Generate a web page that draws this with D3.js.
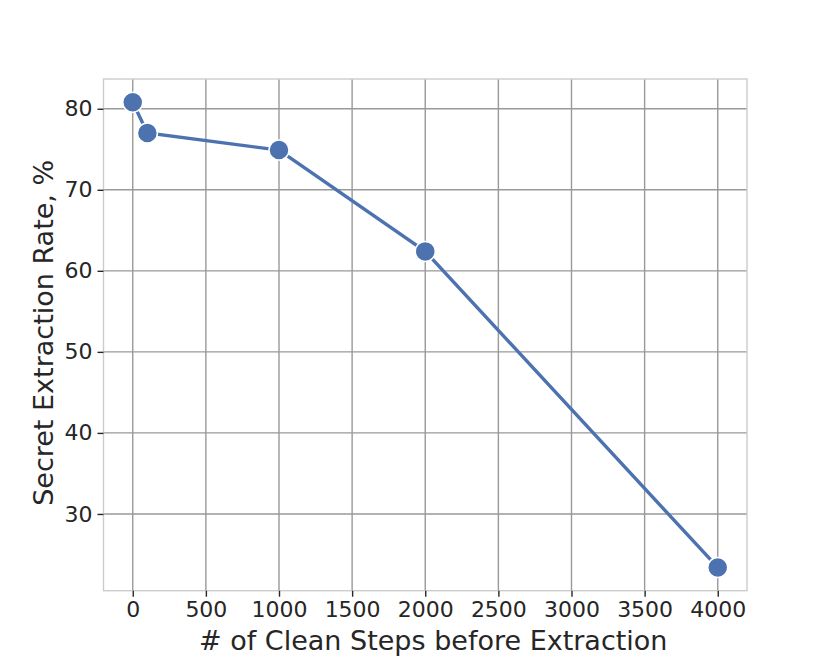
<!DOCTYPE html>
<html><head><meta charset="utf-8">
<script src="https://cdn.jsdelivr.net/npm/d3@7"></script>
<style>body{margin:0;background:#fff}svg{display:block}text{font-family:"DejaVu Sans",sans-serif;fill:#262626}</style>
</head><body><svg id="c" width="830" height="664"></svg>
<script>
const steps = [0, 100, 1000, 2000, 4000];
const rates = [80.8, 77.0, 74.9, 62.4, 23.4];
const xTicks = [0, 500, 1000, 1500, 2000, 2500, 3000, 3500, 4000];
const yTicks = [30, 40, 50, 60, 70, 80];
const xLabel = "# of Clean Steps before Extraction";
const yLabel = "Secret Extraction Rate, %";

const L = 103.5, R = 747, T = 79, B = 590.7;
const svg = d3.select("#c");
const x = d3.scaleLinear().domain([-200, 4200]).range([L, R]);
const ymin = d3.min(rates), ymax = d3.max(rates), pad = (ymax - ymin) * 0.05;
const y = d3.scaleLinear().domain([ymin - pad, ymax + pad]).range([B, T]);

// grid
svg.append("g").selectAll("line").data(xTicks).join("line")
  .attr("x1", d => x(d)).attr("x2", d => x(d)).attr("y1", T).attr("y2", B)
  .attr("stroke", "#999").attr("stroke-width", 1.4);
svg.append("g").selectAll("line").data(yTicks).join("line")
  .attr("y1", d => y(d)).attr("y2", d => y(d)).attr("x1", L).attr("x2", R)
  .attr("stroke", "#999").attr("stroke-width", 1.4);
// frame
svg.append("rect").attr("x", L).attr("y", T).attr("width", R - L).attr("height", B - T)
  .attr("fill", "none").attr("stroke", "#cccccc").attr("stroke-width", 1.4);

// axes
const xa = svg.append("g").attr("transform", `translate(0,${B})`)
  .call(d3.axisBottom(x).tickValues(xTicks).tickSize(6).tickPadding(5).tickFormat(d3.format("d")));
const ya = svg.append("g").attr("transform", `translate(${L},0)`)
  .call(d3.axisLeft(y).tickValues(yTicks).tickSize(6).tickPadding(5));
[xa, ya].forEach(a => {
  a.select(".domain").remove();
  a.selectAll(".tick line").attr("stroke", "#262626").attr("stroke-width", 1.4);
  a.selectAll(".tick text").attr("font-size", 22).attr("fill", "#262626").style("font-family", "DejaVu Sans");
});

// line
const pts = steps.map((s, i) => [s, rates[i]]);
svg.append("path").datum(pts)
  .attr("d", d3.line().x(d => x(d[0])).y(d => y(d[1])))
  .attr("fill", "none").attr("stroke", "#4c72b0").attr("stroke-width", 3.4);
svg.append("g").selectAll("circle").data(pts).join("circle")
  .attr("cx", d => x(d[0])).attr("cy", d => y(d[1])).attr("r", 10)
  .attr("fill", "#4c72b0").attr("stroke", "#fff").attr("stroke-width", 1.5);

// labels
svg.append("text").attr("x", (L + R) / 2 + 8).attr("y", 650).attr("text-anchor", "middle")
  .attr("font-size", 27).text(xLabel);
svg.append("text").attr("transform", `translate(53,${(T + B) / 2 - 2}) rotate(-90)`)
  .attr("text-anchor", "middle").attr("font-size", 27).text(yLabel);
</script></body></html>
